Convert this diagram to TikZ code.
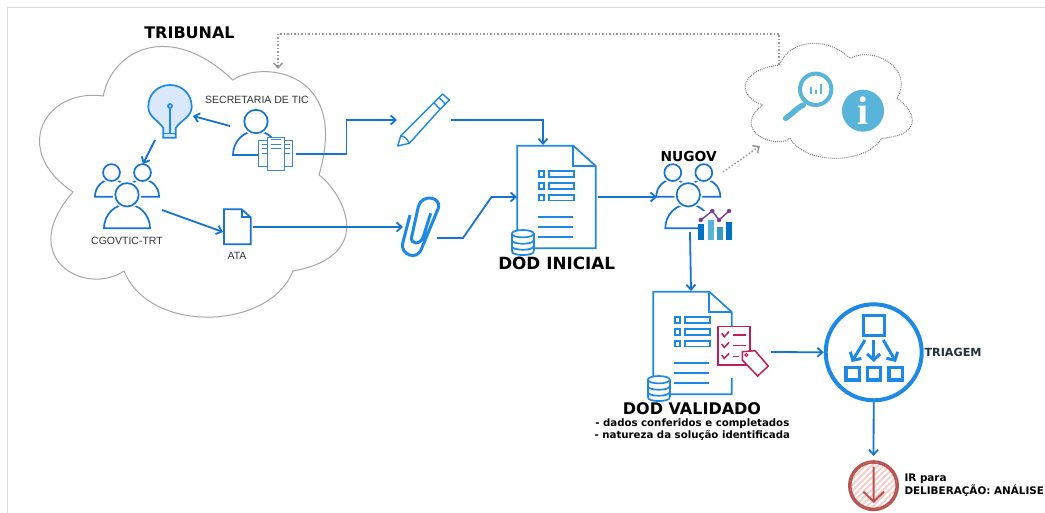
\documentclass[tikz,border=0pt]{standalone}
\usepackage{fontspec}
\setmainfont{Liberation Sans}
\newfontfamily\headfont{DejaVu Sans}
\newfontfamily\infofont{Liberation Serif}
\usepackage{tikz}
\usetikzlibrary{arrows.meta}
\definecolor{flowblue}{HTML}{1573D1}
\definecolor{iconblue}{HTML}{1E88E5}
\definecolor{sheetblue}{HTML}{3A85CC}
\definecolor{bulbfill}{HTML}{DAE8FC}
\definecolor{infoblue}{HTML}{59B4D9}
\definecolor{tagred}{HTML}{BE1E5C}
\definecolor{sketchred}{HTML}{B85450}
\definecolor{sketchpink}{HTML}{F8CECC}
\definecolor{trendpurple}{HTML}{7B3F98}
\definecolor{triagemink}{HTML}{232F3E}
\tikzset{
  iconbox/.style={inner sep=0pt,outer sep=0pt},
  flow/.style={draw=flowblue,line width=1.8pt,-{Straight Barb[length=5pt,width=9pt]}},
  hint/.style={draw=black!40,line width=1.5pt,dotted,-{Straight Barb[length=5pt,width=9pt]}},
  iconline/.style={draw=flowblue,line width=1.7pt},
  docline/.style={draw=iconblue,line width=1.7pt},
  headlabel/.style={font=\headfont\bfseries\fontsize{#1}{18}\selectfont,inner sep=0pt},
  headlabel/.default=16,
  notelabel/.style={font=\headfont\bfseries\fontsize{#1}{12}\selectfont,inner sep=0pt},
  notelabel/.default=10.2,
  iconlabel/.style={font=\fontsize{10.5}{12}\selectfont,text=black!80,inner sep=0pt},
  person/.pic={
    \draw[iconline,fill=white] (-23,0) .. controls (-23,-14) and (-12,-24) .. (0,-24)
      .. controls (12,-24) and (23,-14) .. (23,0) -- cycle;
    \draw[white,line width=5pt] (0,-33.5) circle[radius=11.7];
    \draw[iconline,fill=white] (0,-33.5) circle[radius=11.7];
  },
  people/.pic={
    \pic[scale=.72] at (-15.5,-31.6) {person};
    \pic[scale=.72] at (15.5,-31.6) {person};
    \pic at (0,0) {person};
  },
  database/.pic={
    \fill[white] (-11,3.7) -- (-11,21.3) .. controls (-11,26) and (11,26) .. (11,21.3) -- (11,3.7) -- cycle;
    \draw[docline] (-11,3.7) -- (-11,21.3) (11,3.7) -- (11,21.3);
    \draw[docline,fill=white] (0,3.7) ellipse[x radius=11,y radius=3.7];
    \foreach \lev in {10,16,21.3}
      \draw[docline] (-11,\lev) .. controls (-11,\lev+5) and (11,\lev+5) .. (11,\lev);
  },
  dodsheet/.pic={
    \draw[docline,fill=white] (0,0) -- (56,0) -- (78.4,20.3) -- (78.4,102.6) -- (0,102.6) -- cycle;
    \draw[docline] (56,0) -- (56,20.3) -- (78.4,20.3);
    \foreach \lev in {25.6,37.3,49}
    {
      \draw[docline] (21.7,\lev) rectangle +(5.3,5.7);
      \draw[docline] (32,\lev) rectangle +(24.7,5.7);
    }
    \foreach \lev in {71,81,91.3}
      \draw[docline] (21,\lev) -- (56,\lev);
    \pic at (5.5,84.3) {database};
  },
}
\begin{document}
\begin{tikzpicture}[x=1pt,y=-1pt]
\clip (0,0) rectangle (1045,513);
\fill[white] (0,0) rectangle (1045,513);
\draw[black!15,line width=.8pt] (7,513) -- (7,7) -- (1045,7);

\draw[black!35,line width=1pt] (103.3,96) .. controls (112,50) and (170,20) .. (232.7,80)
  .. controls (262,60) and (350,70) .. (319,175)
  .. controls (340,190) and (380,255) .. (293,271)
  .. controls (270,330) and (150,335) .. (124,271)
  .. controls (85,297) and (15,258) .. (73,192)
  .. controls (10,150) and (45,88) .. cycle;
\draw[black!50,line width=1pt,densely dotted] (779,65) .. controls (790,40) and (825,35) .. (850,58.3)
  .. controls (875,45) and (915,70) .. (896.7,98.3)
  .. controls (915,110) and (925,135) .. (881.7,138.3)
  .. controls (865,165) and (805,165) .. (790,138.3)
  .. controls (775,150) and (730,130) .. (762.7,105)
  .. controls (735,95) and (740,70) .. cycle;

\coordinate (tribtop) at (278,69);
\coordinate (infotop) at (779,65);
\coordinate (infoleft) at (760,146);

\node[headlabel] (tribunal) at (189.5,33) {TRIBUNAL};
\node[iconlabel] (seclabel) at (257,100) {SECRETARIA DE TIC};
\node[iconlabel] (cgovlabel) at (127,241) {CGOVTIC-TRT};
\node[iconlabel] (atalabel) at (237,256) {ATA};
\node[headlabel=16.8] (dodlabel) at (556.7,263) {DOD INICIAL};
\node[headlabel=13.8] (nugovlabel) at (688.7,156) {NUGOV};
\node[headlabel] (vallabel) at (692,409) {DOD VALIDADO};
\node[notelabel] (valone) at (692.3,424) {- dados conferidos e completados};
\node[notelabel] (valtwo) at (692.3,436) {- natureza da solução identificada};
\node[notelabel=11.2,anchor=west,text=triagemink] (triagemlabel) at (924.3,352.7) {TRIAGEM};
\node[notelabel=10.4,anchor=west] (irone) at (904.3,479) {IR para};
\node[notelabel=10.4,anchor=west] (irtwo) at (904.3,490.7) {DELIBERAÇÃO: ANÁLISE};

\draw[iconline,draw=iconblue,fill=bulbfill] (163.3,137.7) -- (163.3,128) .. controls (158,120) and (148.3,117) .. (148.3,106.7)
  .. controls (148.3,94) and (158,85) .. (170,85) .. controls (182,85) and (191.7,94) .. (191.7,106.7)
  .. controls (191.7,117) and (181,120) .. (175.7,128) -- (175.7,137.7) -- cycle;
\draw[iconline,draw=iconblue] (163.3,133.5) -- (175.7,133.5) (170,108) -- (170,133.5);
\draw[iconline,draw=iconblue] (170,106) circle[radius=2];

\pic at (256,155) {person};
\draw[draw=sheetblue,line width=1pt,fill=white] (258.3,140.7) rectangle (292.7,166.7);
\draw[draw=sheetblue,line width=1pt,fill=white] (267.3,137.3) rectangle (284.3,170.7);
\foreach \lev in {140,144.3,148.7}
  \draw[sheetblue,line width=1pt] (270.7,\lev) -- (280.7,\lev);
\foreach \lev in {144.3,148.7,153.3}
{
  \draw[sheetblue,line width=1pt] (261.7,\lev) -- (267.3,\lev);
  \draw[sheetblue,line width=1pt] (284.3,\lev) -- (290,\lev);
}

\pic at (127,228.3) {people};

\draw[iconline,fill=white] (224,209.3) -- (241.7,209.3) -- (250.7,217.3) -- (250.7,244.3) -- (224,244.3) -- cycle;
\draw[iconline] (241.7,209.3) -- (241.7,217.3) -- (250.7,217.3);

\draw[docline,line width=1.4pt,line join=round] (397.7,146) -- (400.7,136) -- (434,102.7) -- (442.7,94) -- (449.3,100) -- (440,109.3) -- (409.3,143.3) -- cycle;
\draw[docline,line width=1.4pt] (400.7,136) .. controls (405,136) and (407,139) .. (409.3,143.3) (434,102.7) -- (440,109.3) (439,97.7) -- (445.5,104);

\draw[docline,line width=3pt] (410,215) -- (402.7,243.3) .. controls (400,254) and (417,262) .. (421.7,248.3)
  -- (438.3,208.3) .. controls (442,197) and (422,193) .. (418.3,206.7)
  -- (411.7,236.7) .. controls (410,245) and (421,245) .. (423.3,236.7) -- (430.7,213.3);

\pic at (517.3,145.7) {dodsheet};
\pic at (653.3,291.7) {dodsheet};

\pic at (688.3,228.3) {people};
\fill[white] (699,211) rectangle (734,242);
\foreach \xa/\ya/\barhex in {698.3/224/0072C6,707.7/220/59B4D9,716.7/226.7/3999C6,725.7/222/0072C6}
{
  \definecolor{barcol}{HTML}{\barhex}
  \fill[barcol] (\xa,\ya) rectangle (\xa+6,240);
}
\draw[trendpurple,line width=1.4pt] (700.7,220) -- (712.3,211) -- (719,220) -- (729,211);
\foreach \xa/\ya in {700.7/220,712.3/211,719/220,729/211}
  \fill[trendpurple] (\xa,\ya) circle[radius=2.2];

\fill[white] (727,326) rectangle (736,378);
\draw[tagred,line width=1.5pt,fill=white] (718,326.7) rectangle (750,365);
\foreach \lev/\xe in {0/745.7,10.7/745.7,21.7/739.3}
{
  \draw[tagred,line width=1.5pt] (721.7,333.3+\lev) -- (724.3,336.7+\lev) -- (729,331.7+\lev);
  \draw[tagred,line width=1.5pt] (733.3,335+\lev) -- (\xe,335+\lev);
}
\draw[tagred,line width=1.5pt,fill=white] (742.3,351.7) -- (755,350.7) -- (768.3,366) -- (757.7,376) -- (742.3,360) -- cycle;
\draw[tagred,line width=1pt] (746.3,355) circle[radius=1.5];

\draw[infoblue,line width=4pt] (815.7,89.3) circle[radius=15.7];
\draw[infoblue,line width=5.5pt,line cap=round] (803.3,105) .. controls (797,108) and (792,114) .. (785.7,118.3);
\foreach \xa/\ya in {810.7/87.3,815.7/90,821/84.3}
  \draw[infoblue,line width=2pt] (\xa,94.3) -- (\xa,\ya);
\node[circle,fill=infoblue,minimum size=42pt,inner sep=0pt,text=white,font=\infofont\bfseries\fontsize{40}{40}\selectfont] (infomark) at (863,110.7) {i};

\node[iconbox,minimum width=66pt,minimum height=56pt] (sec) at (263,126) {};
\node[iconbox,minimum width=38pt,minimum height=48pt] (bulb) at (174,116) {};
\node[iconbox,minimum width=38pt,minimum height=92pt] (cgov) at (143,210) {};
\node[iconbox,minimum width=30pt,minimum height=36pt] (ata) at (238,227) {};
\node[iconbox,minimum width=54pt,minimum height=54pt] (pen) at (424,120) {};
\node[iconbox,minimum width=34pt,minimum height=22pt] (clip) at (420,227) {};
\node[iconbox,minimum width=81pt,minimum height=104pt] (dod) at (557.5,197) {};
\node[iconbox,minimum width=66pt,minimum height=70pt] (nugov) at (690,197) {};
\node[iconbox,minimum width=118pt,minimum height=122pt] (dodval) at (712,352) {};
\node[circle,draw=iconblue,fill=white,line width=4pt,minimum size=96pt,inner sep=0pt] (triagem) at (873.7,352.3) {};
\node[circle,minimum size=50pt,inner sep=0pt] (ir) at (873.5,485.7) {};

\draw[iconblue,line width=3.4pt] (863.3,315.7) rectangle (884.3,335.7);
\foreach \xa in {846,867.3,889}
  \draw[iconblue,line width=3.2pt] (\xa,367.3) rectangle (\xa+13.3,380);
\foreach \xa/\xb in {865/851.7,873.7/873.7,883.3/896}
  \draw[iconblue,line width=3pt,-{Straight Barb[length=6pt,width=13pt]}] (\xa,340) -- (\xb,362);

\begin{scope}
\clip (ir) circle[radius=24];
\foreach \off in {-40,-34,...,40}
  \draw[sketchpink,line width=2pt] (873.5+\off-30,485.7+30) -- (873.5+\off+30,485.7-30);
\end{scope}
\draw[sketchred,line width=2pt] (ir) circle[radius=24.5];
\draw[sketchred,line width=1.6pt] (ir) circle[radius=22.8];
\draw[sketchred,line width=2pt] (873.7,466.7) -- (873.7,501.7) (863.3,491.7) -- (873.7,501.7) -- (884,491.7);

\draw[flow] (sec.west) -- (bulb.east);
\draw[flow] (bulb.south west) -- (cgov.north);
\draw[flow] (cgov.east) -- ([yshift=-5pt]ata.west);
\draw[flow] (sec.south east) -- (346.5,154) -- (346.5,120) -- (pen.west);
\draw[flow] (pen.east) -| ([xshift=-14.5pt]dod.north);
\draw[flow] (ata.east) -- (clip.west);
\draw[flow] (clip.south east) -- (463,238) -- (491.5,197) -- (dod.west);
\draw[flow] (dod.east) -- (nugov.west);
\draw[flow] (nugov.south) -- ([xshift=-21pt]dodval.north);
\draw[flow] (dodval.east) -- (triagem.west);
\draw[flow,shorten >=4.5pt] (triagem.south) -- (ir.north);
\draw[hint] ([yshift=25pt]nugov.east) -- (infoleft);
\draw[hint] (infotop) -- (779,34) -- (278,34) -- (tribtop);
\end{tikzpicture}
\end{document}
